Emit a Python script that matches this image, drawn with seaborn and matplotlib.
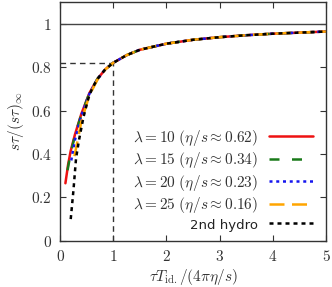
import matplotlib
matplotlib.use("Agg")
import matplotlib.pyplot as plt
import seaborn as sns

sns.set_theme(style="ticks")
plt.rcParams["mathtext.fontset"] = "cm"
plt.rcParams["font.family"] = ["DejaVu Sans"]

# ---- data ----
x_l10 = [0.10, 0.15, 0.20, 0.28, 0.40, 0.55, 0.70, 0.85, 1.00, 1.25, 1.50, 2.0, 2.5, 3.0, 3.5, 4.0, 4.5, 5.0]
y_l10 = [0.265, 0.35, 0.415, 0.49, 0.585, 0.68, 0.745, 0.79, 0.82, 0.855, 0.88, 0.908, 0.926, 0.938, 0.947, 0.954, 0.959, 0.964]

x_l15 = [0.14, 0.20, 0.28, 0.40, 0.55, 0.70, 0.85, 1.00, 1.25, 1.50, 2.0, 2.5, 3.0, 3.5, 4.0, 4.5, 5.0]
y_l15 = [0.325, 0.405, 0.485, 0.583, 0.679, 0.745, 0.79, 0.82, 0.855, 0.88, 0.908, 0.926, 0.938, 0.947, 0.954, 0.959, 0.964]

x_l20 = [0.21, 0.28, 0.40, 0.55, 0.70, 0.85, 1.00, 1.25, 1.50, 2.0, 2.5, 3.0, 3.5, 4.0, 4.5, 5.0]
y_l20 = [0.37, 0.465, 0.578, 0.677, 0.744, 0.79, 0.82, 0.855, 0.88, 0.908, 0.926, 0.938, 0.947, 0.954, 0.959, 0.964]

x_l25 = [0.27, 0.32, 0.40, 0.55, 0.70, 0.85, 1.00, 1.25, 1.50, 2.0, 2.5, 3.0, 3.5, 4.0, 4.5, 5.0]
y_l25 = [0.39, 0.45, 0.55, 0.67, 0.741, 0.789, 0.82, 0.855, 0.88, 0.908, 0.926, 0.938, 0.947, 0.954, 0.959, 0.964]

x_hyd = [0.20, 0.25, 0.30, 0.36, 0.44, 0.53, 0.60, 0.70, 0.85, 1.00, 1.25, 1.50, 2.0, 2.5, 3.0, 3.5, 4.0, 4.5, 5.0]
y_hyd = [0.10, 0.23, 0.38, 0.47, 0.57, 0.655, 0.70, 0.745, 0.79, 0.82, 0.855, 0.88, 0.908, 0.926, 0.938, 0.947, 0.954, 0.959, 0.964]

labels = [r"$\lambda = 10\ (\eta/s \approx 0.62)$",
          r"$\lambda = 15\ (\eta/s \approx 0.34)$",
          r"$\lambda = 20\ (\eta/s \approx 0.23)$",
          r"$\lambda = 25\ (\eta/s \approx 0.16)$",
          "2nd hydro"]
x_ticks = [0, 1, 2, 3, 4, 5]
y_ticks = [0, 0.2, 0.4, 0.6, 0.8, 1]
y_tick_labels = ["0", "0.2", "0.4", "0.6", "0.8", "1"]
ref_x, ref_y = 1.0, 0.82

fig = plt.figure(figsize=(3.32, 2.87), dpi=100)
ax = fig.add_axes([0.181, 0.161, 0.801, 0.832])

ax.axhline(1.0, color="#444444", lw=1.0, zorder=1)
ax.plot([0, ref_x], [ref_y, ref_y], color="#333333", lw=1.0, ls=(0, (4, 3)), zorder=1)
ax.plot([ref_x, ref_x], [0, ref_y], color="#333333", lw=1.0, ls=(0, (4, 3)), zorder=1)

series = [
    (x_l10, y_l10, "#ee1111", "-"),
    (x_l15, y_l15, "#1a7a1a", (0, (4, 5))),
    (x_l20, y_l20, "#1515ee", (0, (1.2, 1.5))),
    (x_l25, y_l25, "#ffa500", (0, (6, 3))),
    (x_hyd, y_hyd, "black", (0, (1.6, 1.6))),
]
handles = []
for (xs, ys, c, ls), lab in zip(series, labels):
    sns.lineplot(x=xs, y=ys, ax=ax, color=c, lw=1.8, estimator=None, sort=False)
    ln = ax.get_lines()[-1]
    ln.set_linestyle(ls)
    ln.set_label(lab)
    handles.append(ln)

ax.set_xlim(0, 5)
ax.set_ylim(0, 1.1)
ax.set_xticks(x_ticks)
ax.set_xticklabels([f"${t}$" for t in x_ticks])
ax.set_yticks(y_ticks)
ax.set_yticklabels([f"${t}$" for t in y_tick_labels])
ax.tick_params(direction="in", top=True, right=True, length=4, width=0.8,
               labelsize=11, colors="#333333", labelcolor="#333333", pad=6)
for sp in ax.spines.values():
    sp.set_color("#333333")
    sp.set_linewidth(1.0)

ax.set_xlabel(r"$\tau T_{\rm id.}/(4\pi\eta/s)$", fontsize=11, color="#333333", labelpad=2)
ax.set_ylabel(r"$s\tau/(s\tau)_\infty$", fontsize=11, color="#333333", labelpad=3)

leg = ax.legend(handles=handles, loc="lower right", bbox_to_anchor=(0.985, 0.0),
                frameon=False, markerfirst=False, fontsize=11, handlelength=2.9,
                labelspacing=0.17, handletextpad=0.7, borderaxespad=0.2)
for t in leg.get_texts():
    t.set_color("#333333")
    t.set_ha("right")
leg.get_texts()[-1].set_fontsize(9.5)
leg.get_texts()[-1].set_color("#222222")
leg._legend_box.align = "right"

fig.savefig("out.png", dpi=100)
